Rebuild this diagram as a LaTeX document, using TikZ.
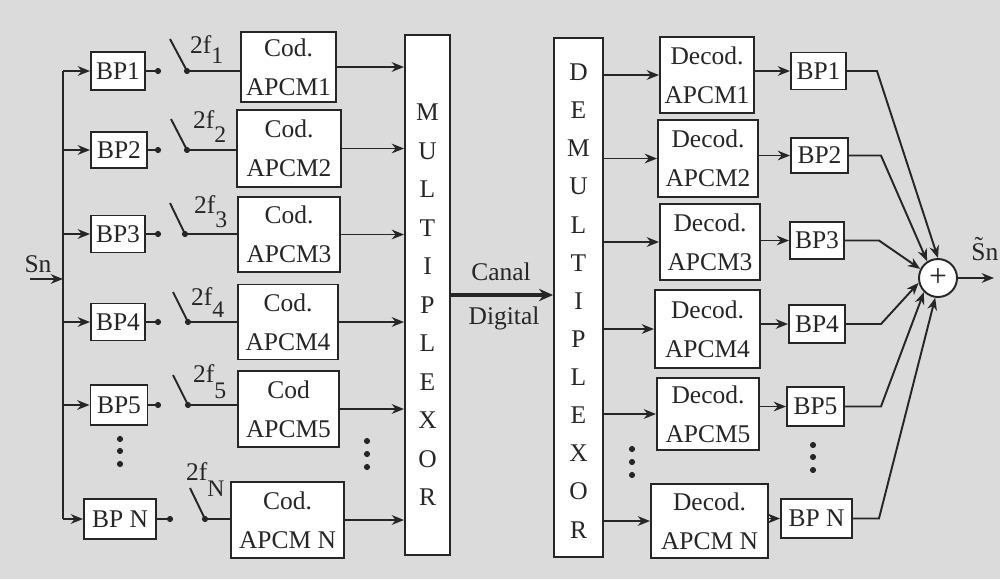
\documentclass[tikz,border=0pt]{standalone}
\usepackage{fontspec}
\setmainfont{Liberation Serif}
\usetikzlibrary{arrows.meta}
\newcommand\twof[2]{2f\raisebox{#2}{\fontsize{13.5}{14}\selectfont #1}}
\begin{document}
\begin{tikzpicture}[x=0.02cm,y=-0.02cm,
 every node/.style={font=\fontsize{14.5}{22}\selectfont, text=black!85},
 box/.style={draw=black!85, fill=white, line width=1.1pt, inner sep=0pt, align=center},
 sz/.style 2 args={minimum width=#1*0.02cm, minimum height=#2*0.02cm},
 ln/.style={draw=black!85, line width=1.1pt},
 arr/.style={ln, -{Stealth[length=7pt,width=5.5pt]}},
 dotm/.style={circle, fill=black!85, inner sep=0pt, minimum size=3.5pt},
 sw/.style={anchor=base west},
]
\fill[black!14] (0,0) rectangle (1000,579);
\useasboundingbox (0,0) rectangle (1000,579);

% ---------- input and bus ----------
\node (sn) at (38,264) {Sn};
\coordinate (snin) at (30,279);
\coordinate (bus) at (63,0);

% left band-pass filters
\node[box, sz={54}{38}] (bp1) at (118,71) {BP1};
\node[box, sz={56}{36}] (bp2) at (119,150) {BP2};
\node[box, sz={54}{37}] (bp3) at (118,234) {BP3};
\node[box, sz={54}{37}] (bp4) at (118,322) {BP4};
\node[box, sz={57}{40}] (bp5) at (119,405) {BP5};
\node[box, sz={72}{40}] (bpn) at (120,519) {BP N};

\draw[ln] (bus |- bp1.west) -- (bus |- bpn.west);
\draw[arr] (snin) -- (snin -| bus);
\foreach \b in {bp1,bp2,bp3,bp4,bp5,bpn}
  \draw[arr] (bus |- \b.west) -- (\b.west);

% coders
\node[box, sz={95}{70}]  (cod1) at (288.5,67)  {Cod.\\APCM1};
\node[box, sz={104}{77}] (cod2) at (289,148.5) {Cod.\\APCM2};
\node[box, sz={102}{75}] (cod3) at (289,234.5) {Cod.\\APCM3};
\node[box, sz={100}{75}] (cod4) at (288,322)   {Cod.\\APCM4};
\node[box, sz={101}{76}] (cod5) at (288.5,409) {Cod\\APCM5};
\node[box, sz={113}{76}] (codn) at (287.5,520) {Cod.\\APCM N};

% ticks, switches
\node[dotm] (t1) at (158,71) {};
\node[dotm] (t2) at (158,150) {};
\node[dotm] (t3) at (158,234) {};
\node[dotm] (t4) at (158,322) {};
\node[dotm] (t5) at (158,405) {};
\node[dotm] (tn) at (170,519) {};
\draw[ln] (bp1.east) -- (t1.center);
\draw[ln] (bp2.east) -- (t2.center);
\draw[ln] (bp3.east) -- (t3.center);
\draw[ln] (bp4.east) -- (t4.center);
\draw[ln] (bp5.east) -- (t5.center);
\draw[ln] (bpn.east) -- (tn.center);

\node[dotm] (p1) at (187,71) {};
\node[dotm] (p2) at (187,150) {};
\node[dotm] (p3) at (185,234) {};
\node[dotm] (p4) at (188,322) {};
\node[dotm] (p5) at (188,405) {};
\node[dotm] (pn) at (205,519) {};
\coordinate (s1) at (170,39);
\coordinate (s2) at (171,119);
\coordinate (s3) at (170,203);
\coordinate (s4) at (173,292);
\coordinate (s5) at (173,375);
\coordinate (sn2) at (190,488);
\draw[ln] (s1) -- (p1.center) -- (p1.center -| cod1.west);
\draw[ln] (s2) -- (p2.center) -- (p2.center -| cod2.west);
\draw[ln] (s3) -- (p3.center) -- (p3.center -| cod3.west);
\draw[ln] (s4) -- (p4.center) -- (p4.center -| cod4.west);
\draw[ln] (s5) -- (p5.center) -- (p5.center -| cod5.west);
\draw[ln] (sn2) -- (pn.center) -- (pn.center -| codn.west);

\node[sw] (f1) at (184,53)  {\twof{1}{-6pt}};
\node[sw] (f2) at (187,128) {\twof{2}{-8pt}};
\node[sw] (f3) at (188,213) {\twof{3}{-8.5pt}};
\node[sw] (f4) at (185,305) {\twof{4}{-7pt}};
\node[sw] (f5) at (187,382) {\twof{5}{-9.5pt}};
\node[sw] (fn) at (180,480) {\twof{N}{-9.5pt}};

% dots
\node[dotm] (ld1) at (120,439) {};
\node[dotm] (ld2) at (120,451) {};
\node[dotm] (ld3) at (120,464) {};
\node[dotm] (cd1) at (367,441) {};
\node[dotm] (cd2) at (367,454) {};
\node[dotm] (cd3) at (367,467) {};

% multiplexor
\node[box, sz={45}{520}] (mux) at (427.5,295) {};
\node[align=center, font=\fontsize{14.5}{21.9}\selectfont] (muxt) at (427.5,305)
  {M\\U\\L\\T\\I\\P\\L\\E\\X\\O\\R};
\draw[arr] (cod1.east) -- (cod1.east -| mux.west);
\draw[arr] (cod2.east) -- (cod2.east -| mux.west);
\draw[arr] (cod3.east) -- (cod3.east -| mux.west);
\draw[arr] (cod4.east) -- (cod4.east -| mux.west);
\draw[arr] (cod5.east) -- (cod5.east -| mux.west);
\draw[arr] (codn.east) -- (codn.east -| mux.west);

% demultiplexor
\node[box, sz={49}{519}] (demux) at (578.5,297.5) {};
\node[align=center, font=\fontsize{14.5}{21.7}\selectfont] (demuxt) at (578.5,301)
  {D\\E\\M\\U\\L\\T\\I\\P\\L\\E\\X\\O\\R};

% channel
\draw[draw=black!85, line width=2.4pt, -{Stealth[length=8pt,width=7pt]}]
  (mux.east) -- (mux.east -| demux.west);
\node (canal) at (501,272) {Canal};
\node (digital) at (504,318) {Digital};

% decoders
\node[box, sz={94}{76}]  (dec1) at (707,75)    {Decod.\\APCM1};
\node[box, sz={100}{77}] (dec2) at (708,158.5) {Decod.\\APCM2};
\node[box, sz={100}{76}] (dec3) at (710,242)   {Decod.\\APCM3};
\node[box, sz={105}{78}] (dec4) at (707.5,329) {Decod.\\APCM4};
\node[box, sz={102}{72}] (dec5) at (708,414)   {Decod.\\APCM5};
\node[box, sz={117}{74}] (decn) at (709.5,521) {Decod.\\APCM N};
\foreach \d in {dec1,dec2,dec3,dec4,dec5,decn}
  \draw[arr] (\d.west -| demux.east) -- (\d.west);

% right band-pass filters
\node[box, sz={55}{37}] (rbp1) at (818.5,71)  {BP1};
\node[box, sz={57}{35}] (rbp2) at (819.5,155.5) {BP2};
\node[box, sz={54}{37}] (rbp3) at (817,240.5) {BP3};
\node[box, sz={56}{38}] (rbp4) at (817,324)   {BP4};
\node[box, sz={57}{39}] (rbp5) at (815.5,406.5) {BP5};
\node[box, sz={71}{39}] (rbpn) at (816.5,518.5) {BP N};
\draw[arr] (rbp1.west -| dec1.east) -- (rbp1.west);
\draw[arr] (rbp2.west -| dec2.east) -- (rbp2.west);
\draw[arr] (rbp3.west -| dec3.east) -- (rbp3.west);
\draw[arr] (rbp4.west -| dec4.east) -- (rbp4.west);
\draw[arr] (rbp5.west -| dec5.east) -- (rbp5.west);
\draw[arr] (rbpn.west -| decn.east) -- (rbpn.west);

\node[dotm] (rd1) at (632,449) {};
\node[dotm] (rd2) at (632,462) {};
\node[dotm] (rd3) at (632,475) {};
\node[dotm] (bd1) at (813,445) {};
\node[dotm] (bd2) at (813,457) {};
\node[dotm] (bd3) at (813,470) {};

% summation
\node[draw=black!85, fill=white, circle, line width=1.1pt, inner sep=0pt, sz={38}{38},
  font=\fontsize{18}{18}\selectfont] (sum) at (938,278) {+};
\draw[arr] (rbp1.east) -- ++(30,0) -- (sum.90);
\draw[arr] (rbp2.east) -- ++(32,0) -- (sum.123);
\draw[arr] (rbp3.east) -- ++(34,0) -- (sum.153);
\draw[arr] (rbp4.east) -- ++(35,0) -- (sum.194);
\draw[arr] (rbp5.east) -- ++(36,0) -- (sum.225);
\draw[arr] (rbpn.east) -- ++(26,0) -- (sum.262);
\coordinate (out) at (994,278);
\draw[arr] (sum.east) -- (out);
\node[sw, inner sep=0pt] (snout) at (971,260) {\~{S}n};
\end{tikzpicture}
\end{document}
